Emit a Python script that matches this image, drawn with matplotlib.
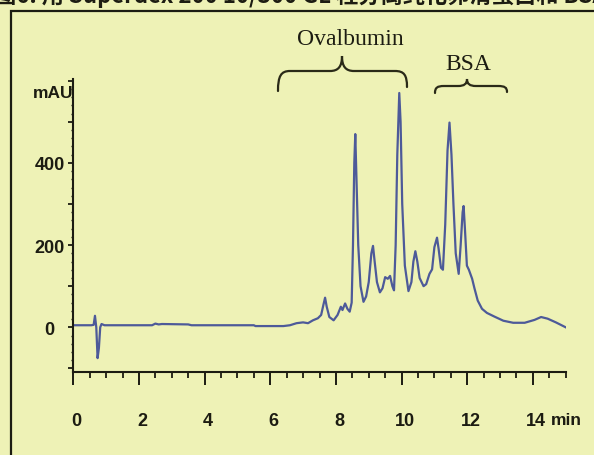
import matplotlib
matplotlib.use("Agg")
import matplotlib.pyplot as plt
import matplotlib.transforms as mtransforms
from matplotlib.path import Path
from matplotlib.patches import PathPatch
from matplotlib.ticker import MultipleLocator, FuncFormatter

# ---- chromatogram (retention time in min, absorbance in mAU) ----
time_min = [
    0.00, 0.55, 0.62, 0.66, 0.70, 0.74, 0.78, 0.82, 0.86, 0.95,
    2.40, 2.50, 2.60, 2.70, 3.50, 3.60, 5.50, 5.55, 6.40, 6.60,
    6.80, 7.00, 7.15, 7.30, 7.45, 7.55, 7.62, 7.67, 7.72, 7.80,
    7.93, 8.05, 8.15, 8.20, 8.28, 8.35, 8.42, 8.48, 8.52, 8.56,
    8.59, 8.62, 8.68, 8.75, 8.84, 8.92, 9.00, 9.08, 9.13, 9.18,
    9.25, 9.34, 9.42, 9.50, 9.58, 9.65, 9.72, 9.77, 9.82, 9.87,
    9.93, 9.97, 10.02, 10.10, 10.21, 10.30, 10.36, 10.42, 10.48, 10.55,
    10.67, 10.75, 10.85, 10.93, 11.00, 11.08, 11.13, 11.20, 11.26, 11.33,
    11.40, 11.46, 11.52, 11.58, 11.65, 11.74, 11.80, 11.86, 11.89, 11.93,
    11.99, 12.05, 12.15, 12.22, 12.32, 12.45, 12.60, 12.83, 13.10, 13.40,
    13.75, 14.05, 14.25, 14.45, 14.70, 15.00,
]
absorbance_mau = [
    5, 5, 6, 28, 0, -75, -50, 0, 8, 5,
    5, 9, 7, 8, 7, 5, 5, 3, 3, 5,
    10, 12, 10, 17, 22, 30, 55, 72, 50, 25,
    17, 30, 50, 42, 58, 45, 38, 60, 200, 400,
    470, 380, 200, 100, 62, 75, 110, 180, 198, 160,
    110, 85, 95, 122, 118, 125, 100, 90, 200, 420,
    570, 500, 300, 150, 88, 110, 160, 185, 160, 120,
    100, 105, 130, 141, 195, 218, 190, 145, 140, 250,
    430, 498, 420, 300, 180, 130, 200, 280, 295, 240,
    150, 140, 118, 95, 65, 45, 35, 26, 16, 11,
    11, 18, 25, 21, 12, 0,
]

x_ticks = [0, 2, 4, 6, 8, 10, 12, 14]
y_labelled = [0, 200, 400]
x_unit = "min"
y_unit = "mAU"
group_names = ["Ovalbumin", "BSA"]
caption = "图6. 用 Superdex 200 10/300 GL 柱分离纯化卵清蛋白和 BSA 的混合物"

BG = "#EEF2B6"
LINE = "#4D5A99"
INK = "#1C1C12"

W, H = 594, 456
fig = plt.figure(figsize=(W / 100, H / 100), dpi=100, facecolor=BG)

# pixel-coordinate layer for the frame, braces and free text
ov = fig.add_axes([0, 0, 1, 1])
ov.set_xlim(0, W)
ov.set_ylim(H, 0)
ov.axis("off")
ov.plot([11, 11, 610], [470, 12, 12], color=INK, lw=1.6,
        solid_joinstyle="miter")
ov.text(-6, 3, caption, ha="left", va="baseline", fontsize=16,
        color=INK, family=["Noto Sans CJK SC", "DejaVu Sans"],
        fontweight="bold", clip_on=False)


def brace(x0, x1, xm, y0, y1, ytop, ycusp, r):
    verts = [
        (x0, y0),
        (x0, ytop + (y0 - ytop) * 0.25), (x0 + r * 0.25, ytop), (x0 + r, ytop),
        (xm - r, ytop),
        (xm - r * 0.3, ytop), (xm, ytop - (ytop - ycusp) * 0.3), (xm, ycusp),
        (xm, ytop - (ytop - ycusp) * 0.3), (xm + r * 0.3, ytop), (xm + r, ytop),
        (x1 - r, ytop),
        (x1 - r * 0.25, ytop), (x1, ytop + (y1 - ytop) * 0.25), (x1, y1),
    ]
    codes = [Path.MOVETO,
             Path.CURVE4, Path.CURVE4, Path.CURVE4,
             Path.LINETO,
             Path.CURVE4, Path.CURVE4, Path.CURVE4,
             Path.CURVE4, Path.CURVE4, Path.CURVE4,
             Path.LINETO,
             Path.CURVE4, Path.CURVE4, Path.CURVE4]
    ov.add_patch(PathPatch(Path(verts, codes), fill=False, ec="#2A2A18",
                           lw=1.6, capstyle="round"))


brace(278, 407, 342, 92, 88, 72, 57, 12)
brace(435, 507, 467, 94, 93, 87, 80, 9)
ov.text(350, 45, group_names[0], ha="center", va="baseline", fontsize=17,
        family="Liberation Serif", color=INK)
ov.text(468, 70, group_names[1], ha="center", va="baseline", fontsize=17,
        family="Liberation Serif", color=INK)

tick_font = dict(family="Liberation Sans", fontweight="bold", color=INK)
ov.text(566, 421, x_unit, ha="center", va="center", fontsize=12.5, **tick_font)
ov.text(33, 93, y_unit, ha="left", va="center", fontsize=12.5, **tick_font)

# ---- chromatogram axes ----
x0p, x1p, ytp, ybp = 73.3, 565.7, 80.0, 372.7
ax = fig.add_axes([x0p / W, 1 - ybp / H, (x1p - x0p) / W, (ybp - ytp) / H])
ax.set_facecolor("none")
ax.plot(time_min, absorbance_mau, color=LINE, lw=1.6, solid_joinstyle="round")
ax.set_xlim(0, 15)
ax.set_ylim(-108, 604)
for s in ("top", "right"):
    ax.spines[s].set_visible(False)
for s in ("left", "bottom"):
    ax.spines[s].set_linewidth(1.5)
    ax.spines[s].set_color(INK)

ax.set_xticks(x_ticks)
ax.xaxis.set_minor_locator(MultipleLocator(0.5))
ax.yaxis.set_major_locator(MultipleLocator(100))
ax.yaxis.set_minor_locator(MultipleLocator(20))
ax.yaxis.set_major_formatter(
    FuncFormatter(lambda v, p: f"{v:.0f}" if round(v) in y_labelled else ""))

ax.tick_params(axis="x", which="major", length=9, width=1.4, pad=20,
               colors=INK, labelsize=13)
ax.tick_params(axis="x", which="minor", length=4, width=1.3, colors=INK)
ax.tick_params(axis="y", which="major", length=3.5, width=1.3, pad=13.5,
               colors=INK, labelsize=13)
ax.tick_params(axis="y", which="minor", length=1.5, width=1.0, colors=INK)

shift = mtransforms.ScaledTranslation(3.5 / 100, 0, fig.dpi_scale_trans)
for lab in ax.get_xticklabels():
    lab.set_fontfamily("Liberation Sans")
    lab.set_fontweight("bold")
    lab.set_transform(lab.get_transform() + shift)
for lab in ax.get_yticklabels():
    lab.set_fontfamily("Liberation Sans")
    lab.set_fontweight("bold")
    lab.set_horizontalalignment("center")

fig.savefig("out.png", dpi=100, facecolor=BG)
